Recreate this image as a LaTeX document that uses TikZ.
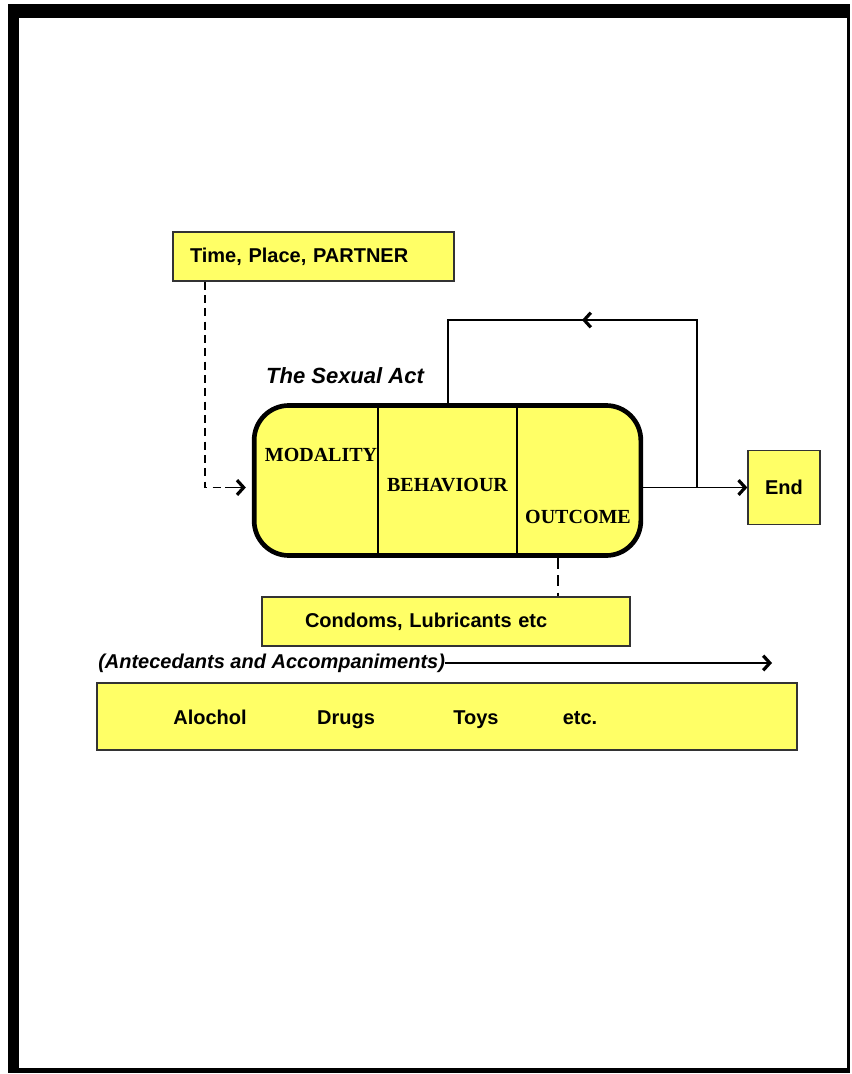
\documentclass[tikz,border=0pt]{standalone}
\usepackage{fontspec}
\setmainfont{Liberation Sans}
\newfontfamily\timesfont{Liberation Serif}
\usetikzlibrary{positioning,arrows.meta,calc}
\definecolor{actyellow}{RGB}{255,255,102}
\tikzset{
  box/.style={rectangle, draw=black!80, line width=1pt, fill=actyellow, font=\fontsize{15}{18}\selectfont\bfseries},
  act/.style={rectangle, rounded corners=26pt, draw=black, line width=3.5pt, fill=actyellow},
  stage/.style={inner sep=0pt, font=\timesfont\fontsize{15}{18}\selectfont\bfseries},
  item/.style={inner sep=0pt, anchor=base, font=\fontsize{15}{18}\selectfont\bfseries},
  title/.style={inner sep=0pt, font=\fontsize{16.5}{18}\selectfont\bfseries\itshape},
  connect/.style={-{Straight Barb[length=5pt,width=11pt,line width=2.4pt]}, line width=1.2pt},
  setting/.style={line width=1.2pt, dash pattern=on 6pt off 4pt}
}

\begin{document}
\begin{tikzpicture}[x=0.75pt,y=-0.75pt]
    \useasboundingbox (0,0) rectangle (851,1074);

    % page frame
    \fill (8,4) rectangle (850,18);
    \fill (8,4) rectangle (19,1073);
    \fill (8,1068) rectangle (850,1073);
    \fill (847,4) rectangle (850,1073);

    \node[box, text width=185.25pt, inner xsep=12.75pt, align=left, minimum height=36.75pt] (Partner) at (313.5,256.5) {Time, Place, PARTNER};
    \node[title] (ActTitle) at (345,376) {The Sexual Act};
    \node[act, minimum width=290pt, minimum height=112.5pt] (Act) at (447.5,480.5) {};
    \node[stage] (Modality) at (321,455) {MODALITY};
    \node[stage] (Behaviour) at (447.5,485) {BEHAVIOUR};
    \node[stage] (Outcome) at (578,517) {OUTCOME};
    \node[box, minimum width=54pt, minimum height=55.5pt] (End) at (784,487.5) {End};
    \node[box, text width=211.5pt, inner xsep=32.25pt, align=left, minimum height=36.75pt] (Condoms) at (446,621.5) {Condoms, Lubricants etc};
    \node[title, font=\fontsize{15}{18}\selectfont\bfseries\itshape, anchor=west] (Ante) at (98,663) {(Antecedants and Accompaniments)};
    \node[box, minimum width=525pt, minimum height=50.25pt] (Extras) at (447,716.5) {};
    \node[item] (Alcohol) at (210,724) {Alochol};
    \node[item] (Drugs) at (346,724) {Drugs};
    \node[item] (Toys) at (476,724) {Toys};
    \node[item] (Etc) at (580,724) {etc.};

    % stage dividers
    \draw[line width=1.2pt] (Act.north -| 378,0) -- (Act.south -| 378,0);
    \draw[line width=1.2pt] (Act.north -| 517,0) -- (Act.south -| 517,0);

    % setting feeds the act
    \coordinate (drop) at (205,487.5);
    \draw[setting] (Partner.south -| drop) -- (drop) -- ++(20,0);
    \draw[connect] ($(drop)+(20,0)$) -- ($(Act.west |- drop)+(-6,0)$);

    % repeat loop and end
    \coordinate (turnL) at (448,320);
    \coordinate (turnR) at (697,320);
    \coordinate (split) at (697,487.5);
    \draw[line width=1.2pt] (Act.north -| turnL) -- (turnL) -- (turnR) -- (split);
    \draw[connect] (turnR) -- (582,320);
    \draw[connect] (Act.east |- End.west) -- (End.west);

    % protection
    \draw[line width=2.2pt, dash pattern=on 8pt off 5pt] (Act.south -| 558,0) -- (Condoms.north -| 558,0);

    % antecedants run along
    \coordinate (anteEnd) at (772,663);
    \draw[connect] (Ante.east) -- (anteEnd);
\end{tikzpicture}
\end{document}
